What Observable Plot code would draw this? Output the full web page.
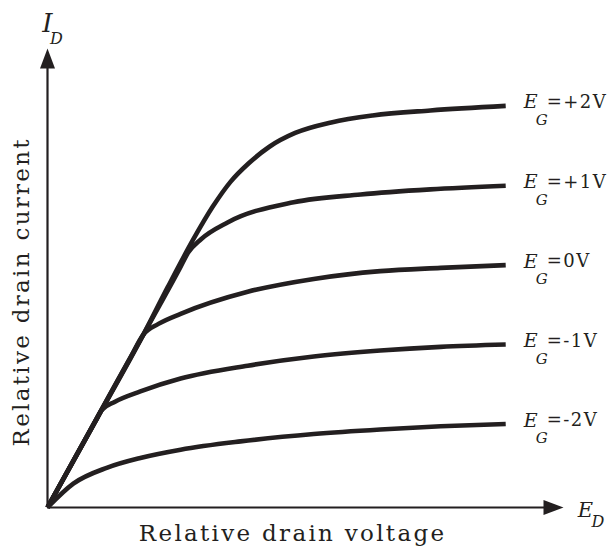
<!DOCTYPE html>
<html><head><meta charset="utf-8">
<script src="https://cdn.jsdelivr.net/npm/d3@7"></script>
<script src="https://cdn.jsdelivr.net/npm/@observablehq/plot@0.6"></script>
<style>
html,body{margin:0;padding:0;background:#fff;}
svg{display:block}
</style></head><body><div id="chart"></div>
<script>
// Gate-voltage curve names
const gateVoltages = ["+2V", "+1V", "0V", "-1V", "-2V"];
// Relative drain voltage / relative drain current (0–100 scale) for each curve
const drainVoltageP2 = [0, 9.3, 18.6, 23.3, 28.3, 32.0, 35.5, 39.0, 43.0, 48.0, 55.0, 63.0, 74.2, 88.8];
const drainCurrentP2 = [0, 18.8, 37.7, 48.0, 58.5, 65.5, 71.0, 75.0, 78.6, 81.6, 83.9, 85.4, 86.5, 87.5];
const drainVoltageP1 = [0, 13.6, 25.5, 27.3, 29.7, 34.9, 47.7, 60.7, 74.2, 88.8];
const drainCurrentP1 = [0, 27.7, 51.8, 55.6, 58.4, 62.1, 66.5, 68.2, 69.3, 70.1];
const drainVoltageZ0 = [0, 8.0, 16.0, 18.6, 21.5, 25.8, 38.8, 51.6, 64.5, 76.2, 88.8];
const drainCurrentZ0 = [0, 16.2, 32.5, 37.7, 40.0, 42.2, 47.0, 49.8, 51.5, 52.2, 52.8];
const drainVoltageM1 = [0, 4.7, 9.3, 10.5, 13.0, 18.0, 25.8, 38.8, 51.6, 64.5, 76.2, 88.8];
const drainCurrentM1 = [0, 9.5, 18.8, 21.2, 23.0, 25.3, 28.1, 30.9, 32.9, 34.2, 35.0, 35.5];
const drainVoltageM2 = [0, 5.0, 11.6, 18.0, 25.8, 37.4, 51.6, 64.5, 76.2, 88.8];
const drainCurrentM2 = [0, 5.2, 8.7, 10.8, 12.6, 14.4, 16.0, 17.0, 17.7, 18.2];
// Axis titles
const xTitle = "Relative drain voltage";
const yTitle = "Relative drain current";
const axisMax = 100;

const seriesList = [
  {gate: gateVoltages[0], vd: drainVoltageP2, id: drainCurrentP2},
  {gate: gateVoltages[1], vd: drainVoltageP1, id: drainCurrentP1},
  {gate: gateVoltages[2], vd: drainVoltageZ0, id: drainCurrentZ0},
  {gate: gateVoltages[3], vd: drainVoltageM1, id: drainCurrentM1},
  {gate: gateVoltages[4], vd: drainVoltageM2, id: drainCurrentM2}
];
const points = seriesList.flatMap(s => s.vd.map((v, i) => ({gate: s.gate, vd: v, id: s.id[i]})));
const ends = seriesList.map(s => ({gate: s.gate, vd: s.vd[s.vd.length - 1], id: s.id[s.id.length - 1]}));

const ink = "#231f20";
const serif = "DejaVu Serif";

const upArrow = {draw(ctx) { ctx.moveTo(0, 0); ctx.lineTo(-7.5, 20); ctx.lineTo(7.5, 20); ctx.closePath(); }};
const rightArrow = {draw(ctx) { ctx.moveTo(0, 0); ctx.lineTo(-20, -7.5); ctx.lineTo(-20, 7.5); ctx.closePath(); }};

const chart = Plot.plot({
  width: 610,
  height: 547,
  marginLeft: 47,
  marginRight: 47,
  marginTop: 48,
  marginBottom: 40,
  x: {domain: [0, axisMax], axis: null},
  y: {domain: [0, axisMax], axis: null},
  marks: [
    Plot.ruleX([0], {y1: 0, y2: axisMax * 0.97, stroke: ink, strokeWidth: 2.2}),
    Plot.ruleY([0], {x1: 0, x2: axisMax * 0.97, stroke: ink, strokeWidth: 2.2}),
    Plot.dot([{x: 0, y: axisMax}], {x: "x", y: "y", symbol: upArrow, fill: ink, stroke: null}),
    Plot.dot([{x: axisMax, y: 0}], {x: "x", y: "y", symbol: rightArrow, fill: ink, stroke: null}),
    Plot.line(points, {x: "vd", y: "id", z: "gate", curve: "monotone-x", stroke: ink, strokeWidth: 4.6, strokeLinecap: "butt", strokeLinejoin: "round"}),
    // curve labels E_G = ...
    Plot.text(ends, {x: "vd", y: "id", text: () => "E", dx: 18, dy: -3.5, textAnchor: "start", fontFamily: serif, fontStyle: "italic", fontSize: 19, fill: ink}),
    Plot.text(ends, {x: "vd", y: "id", text: () => "G", dx: 30, dy: 14.5, textAnchor: "start", fontFamily: serif, fontStyle: "italic", fontSize: 15, fill: ink}),
    Plot.text(ends, {x: "vd", y: "id", text: d => "=" + d.gate, dx: 41, dy: -3.5, textAnchor: "start", fontFamily: serif, fontSize: 18, fill: ink}),
    // axis symbols
    Plot.text([{x: 0, y: axisMax}], {x: "x", y: "y", text: () => "I", dx: 0, dy: -25, textAnchor: "middle", fontFamily: serif, fontStyle: "italic", fontSize: 26, fill: ink}),
    Plot.text([{x: 0, y: axisMax}], {x: "x", y: "y", text: () => "D", dx: 9, dy: -10, textAnchor: "middle", fontFamily: serif, fontStyle: "italic", fontSize: 16, fill: ink}),
    Plot.text([{x: axisMax, y: 0}], {x: "x", y: "y", text: () => "E", dx: 22, dy: 2.5, textAnchor: "middle", fontFamily: serif, fontStyle: "italic", fontSize: 21, fill: ink}),
    Plot.text([{x: axisMax, y: 0}], {x: "x", y: "y", text: () => "D", dx: 34.5, dy: 14, textAnchor: "middle", fontFamily: serif, fontStyle: "italic", fontSize: 16, fill: ink}),
    // axis titles
    Plot.text([xTitle], {x: () => 47.5, y: () => 0, text: d => d, dy: 26, textAnchor: "middle", fontFamily: serif, fontSize: 23, fill: ink}),
    Plot.text([yTitle], {x: () => 0, y: () => 47, text: d => d, dx: -26, rotate: -90, textAnchor: "middle", fontFamily: serif, fontSize: 23, fill: ink})
  ]
});
chart.querySelectorAll("text").forEach(t => {
  const s = t.textContent;
  if (s.startsWith("=")) t.setAttribute("letter-spacing", "1.5");
  if (s === xTitle || s === yTitle) t.setAttribute("letter-spacing", "2.3");
});
document.getElementById("chart").appendChild(chart);
</script>
</body></html>
